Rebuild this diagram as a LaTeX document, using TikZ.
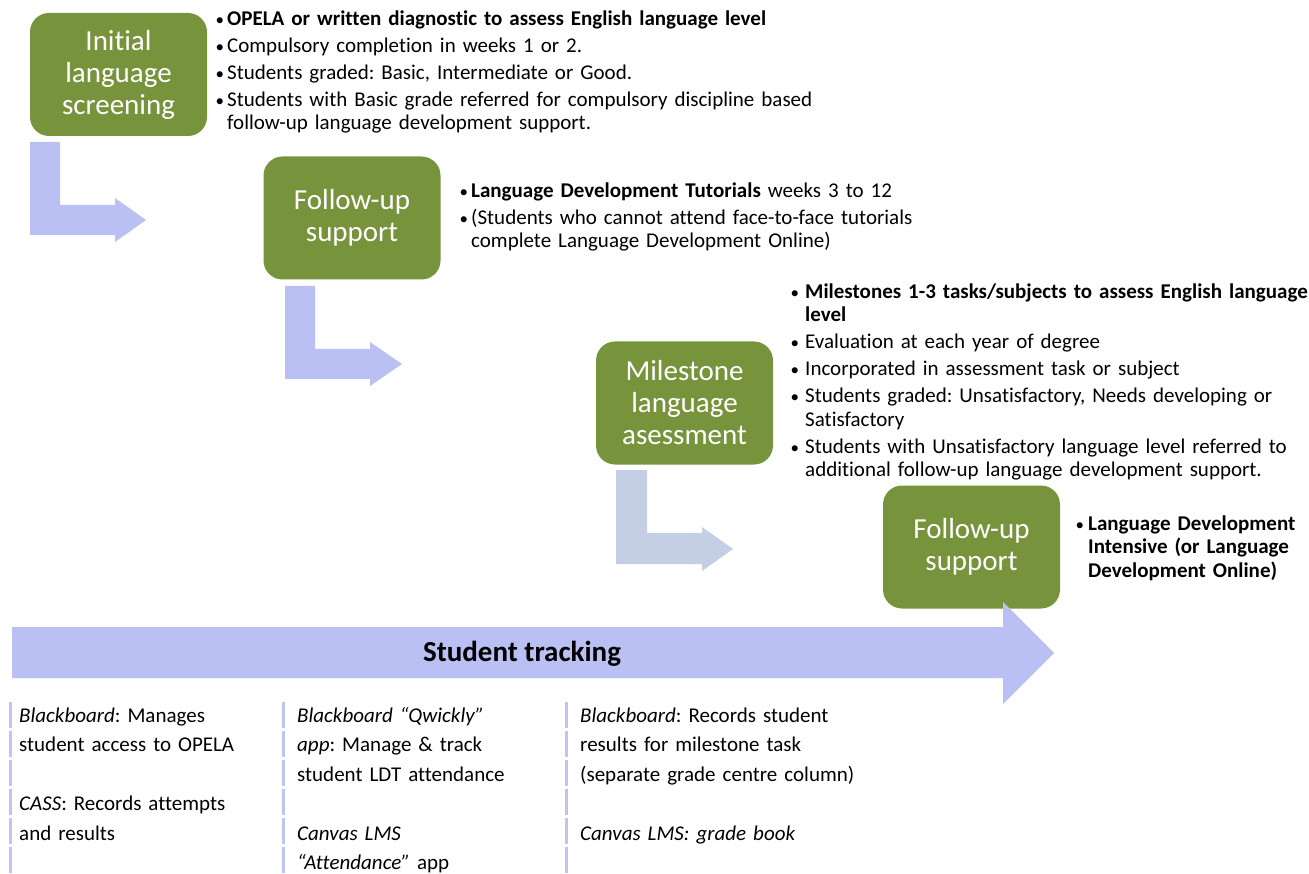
\documentclass[tikz,border=0pt]{standalone}
\usepackage{fontspec}
\setmainfont{Carlito}[Ligatures=NoCommon]
\frenchspacing
\definecolor{boxgreen}{RGB}{119,147,60}
\definecolor{lav}{RGB}{186,192,243}
\definecolor{grayblue}{RGB}{196,206,228}
\definecolor{dashlav}{RGB}{190,196,245}
\newlength{\bw}
\setlength{\bw}{12pt}
\newcommand{\bmark}{\makebox[\bw][l]{\rule{0pt}{16pt}\hspace*{0.5pt}{\fontsize{17}{17}\selectfont\textbullet}}}
\newcommand{\bfirst}[1]{\noindent\bmark#1}
\newcommand{\bitem}[1]{\par\noindent\bmark#1}
\newcommand{\nl}{\newline\hspace*{\bw}}
\begin{document}
\begin{tikzpicture}[x=1pt,y=-1pt,
  stage/.style={rectangle, rounded corners=19pt, fill=boxgreen, text=white,
    minimum width=177pt, minimum height=123pt, inner sep=0pt, align=center,
    font=\fontsize{29}{32}\selectfont},
  bullets/.style={anchor=north west, inner sep=0pt, text width=#1, align=left,
    font=\fontsize{21}{23.5}\selectfont\setlength{\parskip}{3.5pt}},
  column/.style={anchor=north west, inner sep=0pt, text width=#1, align=left,
    font=\fontsize{21}{29.5}\selectfont},
  larrow/.style={fill=#1, draw=none},
  divider/.style={draw=dashlav, line width=3pt, dash pattern=on 26pt off 3pt}
]
\useasboundingbox (0,0) rectangle (1309,874);

% stage boxes
\node[stage] (s1) at (118.5,74.5) {Initial\\language\\screening};
\node[stage] (s2) at (352,218) {Follow-up\\support};
\node[stage] (s3) at (684.5,403) {Milestone\\language\\asessment};
\node[stage] (s4) at (971.5,547) {Follow-up\\support};

% L-shaped arrows
\path[larrow=lav] (30,142) -- (60,142) -- (60,205) -- (115,205) -- (115,198) -- (146,220)
  -- (115,242) -- (115,235) -- (30,235) -- cycle;
\path[larrow=lav] (285,286) -- (315,286) -- (315,349) -- (370,349) -- (370,342) -- (402,364)
  -- (370,386) -- (370,379) -- (285,379) -- cycle;
\path[larrow=grayblue] (616,470) -- (647,470) -- (647,533) -- (702,533) -- (702,527) -- (733,549)
  -- (702,571) -- (702,564) -- (616,564) -- cycle;

% bullet texts
\node[bullets=700pt] (t1) at (215,9) {%
\bfirst{\textbf{OPELA or written diagnostic to assess English language level}}
\bitem{Compulsory completion in weeks 1 or 2.}
\bitem{Students graded: Basic, Intermediate or Good.}
\bitem{Students with Basic grade referred for compulsory discipline based\nl follow-up language development support.}};

\node[bullets=600pt] (t2) at (459,181) {%
\bfirst{\textbf{Language Development Tutorials} weeks 3 to 12}
\bitem{(Students who cannot attend face-to-face tutorials\nl complete Language Development Online)}};

\node[bullets=600pt] (t3) at (790,282) {\setlength{\bw}{15pt}%
\bfirst{\textbf{Milestones 1-3 tasks/subjects to assess English language\nl level}}
\bitem{Evaluation at each year of degree}
\bitem{Incorporated in assessment task or subject}
\bitem{Students graded: Unsatisfactory, Needs developing or\nl Satisfactory}
\bitem{Students with Unsatisfactory language level referred to\nl additional follow-up language development support.}};

\node[bullets=400pt] (t4) at (1075,514) {\setlength{\bw}{13pt}%
\bfirst{\textbf{Language Development\nl Intensive (or Language\nl Development Online)}}};

% student tracking arrow
\path[larrow=lav] (12,627) -- (1003,627) -- (1003,602) -- (1054,653) -- (1003,704)
  -- (1003,678) -- (12,678) -- cycle;
\node[font=\fontsize{29}{32}\selectfont\bfseries] (track) at (522,654) {Student tracking};

% dividers
\draw[divider] (10,702) -- (10,880);
\draw[divider] (283,702) -- (283,880);
\draw[divider] (566,702) -- (566,880);

% tracking columns
\node[column=260pt] (c1) at (19,706) {\rule{0pt}{16pt}\textit{Blackboard}: Manages\\
student access to  OPELA\\[29.5pt]
\textit{CASS}: Records attempts\\
and results};
\node[column=260pt] (c2) at (297,706) {\rule{0pt}{16pt}\textit{Blackboard “Qwickly”}\\
\textit{app}: Manage \& track\\
student LDT attendance\\[29.5pt]
\textit{Canvas LMS}\\
\textit{“Attendance”} app};
\node[column=320pt] (c3) at (580,706) {\rule{0pt}{16pt}\textit{Blackboard}: Records student\\
results for milestone task\\
(separate grade centre column)\\[29.5pt]
\textit{Canvas LMS: grade book}};
\end{tikzpicture}
\end{document}
